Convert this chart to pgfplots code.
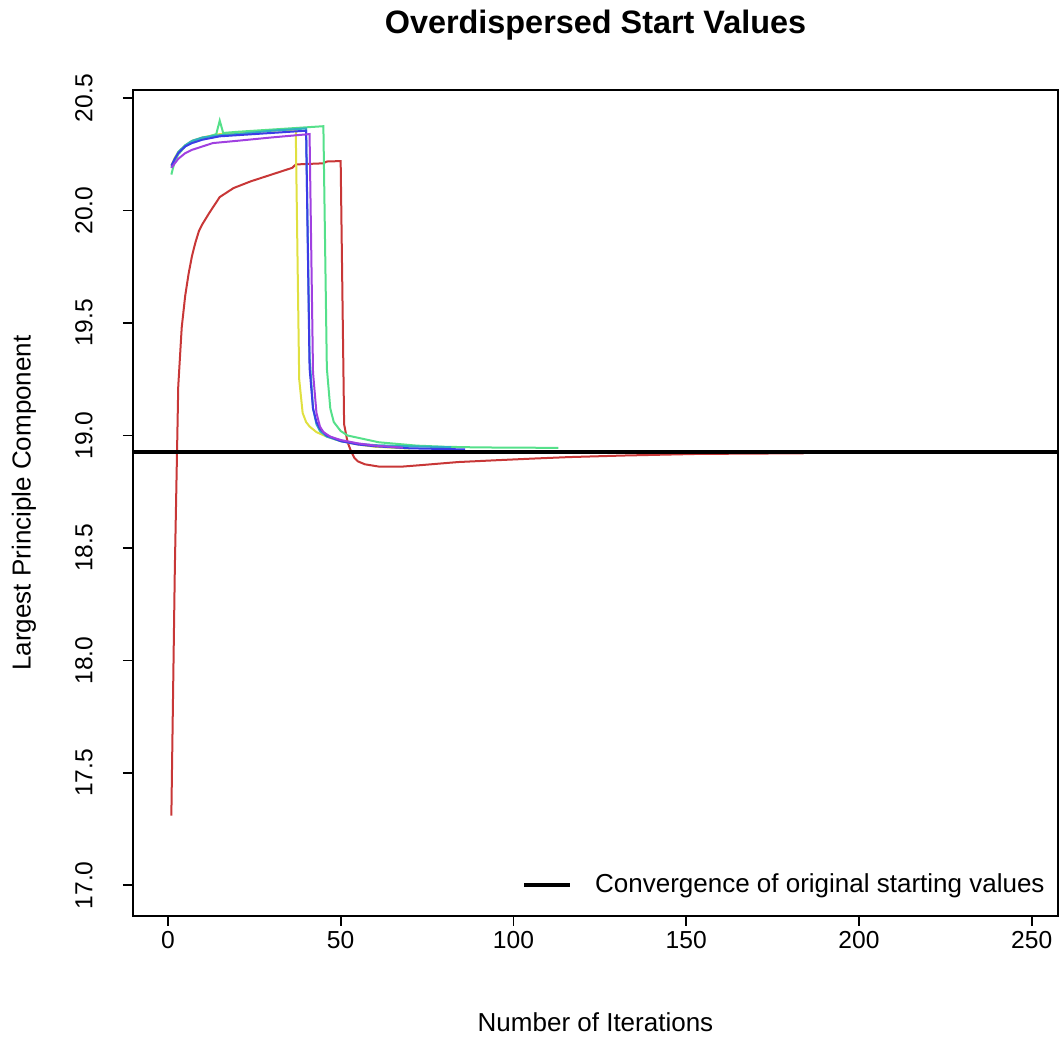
\documentclass[border=0pt]{standalone}
\usepackage{fontspec}
\setmainfont{Liberation Sans}
\usepackage{pgfplots}
\pgfplotsset{compat=1.18}
\usetikzlibrary{calc}
\definecolor{cRed}{HTML}{C83737}
\definecolor{cYellow}{HTML}{E0E040}
\definecolor{cGreen}{HTML}{55E08A}
\definecolor{cTeal}{HTML}{30B0C0}
\definecolor{cBlue}{HTML}{3C3CE6}
\definecolor{cPurple}{HTML}{A040E0}

\begin{document}
\begin{tikzpicture}
\begin{axis}[
  name=ax, scale only axis, width=462.5pt, height=413pt,
  xmin=-10.1, xmax=257.6, ymin=16.864, ymax=20.536,
  axis line style={line width=0.9pt},
  xtick={0,50,100,150,200,250}, ytick={17,17.5,18,18.5,19,19.5,20,20.5},
  xtick pos=bottom, ytick pos=left, tick align=outside, major tick length=5pt,
  every tick/.style={black, line width=0.9pt},
  /pgf/number format/assume math mode=true,
  tick label style={font=\fontsize{12.3}{15}\selectfont},
  yticklabel style={/pgf/number format/fixed, /pgf/number format/fixed zerofill,
                    /pgf/number format/precision=1,
                    rotate=90, anchor=south, inner sep=0pt, yshift=15pt},
  xticklabel style={inner sep=0pt, yshift=-2.5pt},
  xlabel={Number of Iterations}, ylabel={Largest Principle Component},
  label style={font=\fontsize{13}{15}\selectfont},
  xlabel style={at={(rel axis cs:0.5,0)}, anchor=center, yshift=-53pt},
  ylabel style={at={(rel axis cs:0,0.5)}, anchor=center, yshift=54.5pt},
  title={Overdispersed Start Values},
  title style={at={(rel axis cs:0.5,1)}, anchor=center, yshift=26.5pt,
               font=\bfseries\fontsize{16.2}{19}\selectfont},
  legend style={at={(rel axis cs:1,0)}, anchor=south east, draw=none, fill=none,
                inner sep=0pt, xshift=-6.5pt, yshift=10pt,
                font=\fontsize{13}{15}\selectfont, nodes={inner sep=0pt}},
  legend image code/.code={\draw[#1] (0pt,0pt) -- (23pt,0pt); \path[draw=none] (0pt,0pt) -- (35.5pt,0pt);},
  every axis plot/.append style={line width=1pt},
]
\addplot[cRed, forget plot] coordinates {
(1,17.31)(2,18.4)(3,19.22)(4,19.48)(5,19.62)(6,19.72)(7,19.80)(8,19.86)(9,19.91)(10,19.94)
(12,19.99)(15,20.06)(19,20.10)(24,20.13)(30,20.16)(36,20.19)(37,20.205)(45,20.21)(46,20.218)(50,20.22)
(51,19.05)(52,18.97)(53,18.93)(54,18.90)(55,18.885)(57,18.872)(61,18.862)(68,18.862)(73,18.868)
(84,18.882)(95,18.89)(105,18.897)(116,18.904)(132,18.911)(153,18.918)(184,18.921)};
\addplot[cYellow, forget plot] coordinates {
(1,20.20)(2,20.235)(3,20.26)(5,20.29)(7,20.31)(10,20.325)(15,20.34)(20,20.345)(30,20.355)(37,20.36)
(38,19.25)(39,19.10)(40,19.06)(41,19.04)(43,19.015)(46,18.995)(50,18.975)(55,18.96)(60,18.95)(70,18.942)};
\addplot[cGreen, forget plot] coordinates {
(1,20.16)(2,20.22)(3,20.25)(5,20.285)(7,20.305)(10,20.32)(13,20.335)(14,20.34)(15,20.40)(16,20.345)
(20,20.35)(30,20.36)(40,20.37)(45,20.375)(46,19.3)(47,19.12)(48,19.06)(50,19.02)(52,19.0)(55,18.99)
(61,18.97)(72,18.955)(80,18.95)(90,18.947)(113,18.945)};
\addplot[cTeal, forget plot] coordinates {
(1,20.19)(2,20.23)(3,20.26)(5,20.29)(7,20.31)(10,20.325)(15,20.335)(20,20.34)(30,20.355)(40,20.365)
(41,19.35)(42,19.12)(43,19.05)(44,19.02)(46,18.995)(50,18.975)(55,18.963)(60,18.957)(70,18.952)(82,18.948)};
\addplot[cBlue, forget plot] coordinates {
(1,20.20)(2,20.23)(3,20.255)(5,20.285)(7,20.30)(10,20.315)(15,20.33)(20,20.335)(30,20.345)(40,20.355)
(41,19.3)(42,19.12)(43,19.06)(44,19.03)(46,19.0)(50,18.975)(55,18.96)(60,18.952)(70,18.943)(80,18.94)(86,18.938)};
\addplot[cPurple, forget plot] coordinates {
(1,20.19)(2,20.21)(3,20.23)(5,20.255)(7,20.27)(10,20.285)(13,20.30)(20,20.31)(30,20.325)(41,20.34)
(42,19.28)(43,19.1)(44,19.04)(45,19.015)(47,18.995)(50,18.98)(55,18.965)(60,18.955)(68,18.946)};
\addplot[black, line width=2pt] coordinates {(-10.1,18.925)(257.6,18.925)};
\addlegendentry{Convergence of original starting values}
\end{axis}
\pgfresetboundingbox
\path[use as bounding box] ($(ax.south west)+(-66.5pt,-66pt)$) rectangle ($(ax.north east)+(2pt,45pt)$);
\end{tikzpicture}
\end{document}
